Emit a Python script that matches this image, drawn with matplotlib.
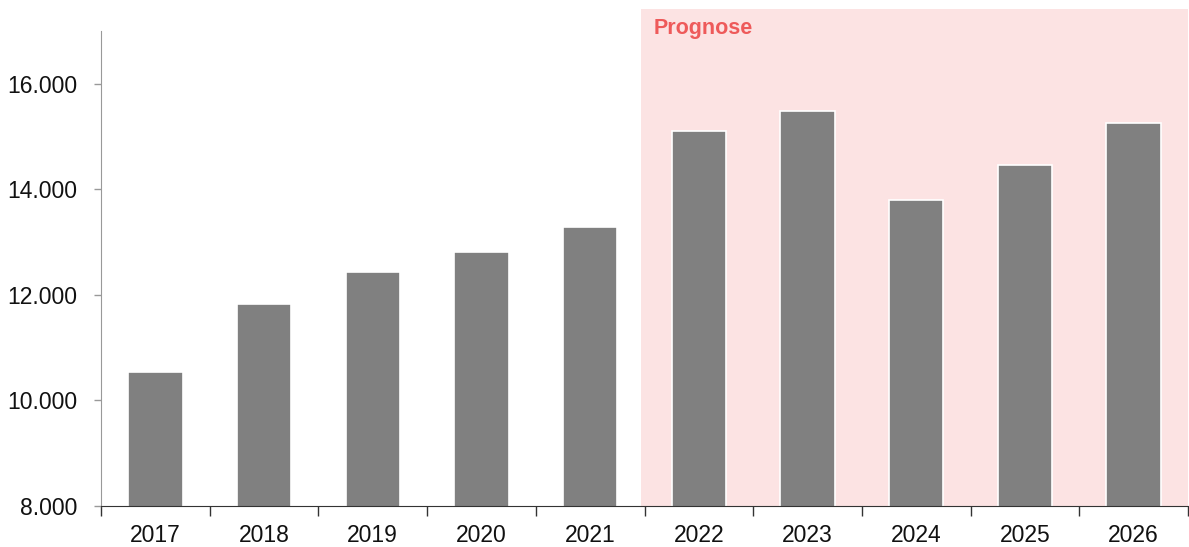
import matplotlib
matplotlib.use("Agg")
import matplotlib.pyplot as plt
import numpy as np
from matplotlib.ticker import FuncFormatter

years = ["2017", "2018", "2019", "2020", "2021", "2022", "2023", "2024", "2025", "2026"]
values = [10540, 11830, 12440, 12815, 13290, 15110, 15490, 13800, 14465, 15265]
yticks = [8000, 10000, 12000, 14000, 16000]
forecast_start = 5

plt.rcParams['font.family'] = ['Liberation Sans', 'DejaVu Sans']

W, H = 1189, 547
fig = plt.figure(figsize=(W / 100, H / 100), dpi=100)
ax = fig.add_axes([101 / W, (H - 506) / H, (1188 - 101) / W, (506 - 31) / H])

x = np.arange(len(years))
ax.axvspan(forecast_start - 0.53, len(years) - 0.5, ymin=0, ymax=(506 - 9) / (506 - 31),
           color="#fce3e3", clip_on=False, zorder=0, lw=0)
ax.bar(x, values, width=0.5, color="#808080", edgecolor="white", linewidth=1.2, zorder=2)

ax.set_xlim(-0.5, len(years) - 0.5)
ax.set_ylim(8000, 17000)
ax.set_yticks(yticks)
ax.yaxis.set_major_formatter(FuncFormatter(lambda v, p: f"{int(v):,}".replace(",", ".")))

ax.set_xticks(np.arange(len(years) + 1) - 0.5)
ax.set_xticklabels([])
ax.set_xticks(x, minor=True)
ax.set_xticklabels(years, minor=True)
ax.tick_params(axis="x", which="major", length=7, width=1, color="#333333", direction="out")
ax.tick_params(axis="x", which="minor", length=0, pad=13, labelsize=16.5, labelcolor="#111111")
ax.tick_params(axis="y", length=5, width=1, color="#999999", labelsize=16.5, labelcolor="#111111", pad=12)

for s in ["top", "right"]:
    ax.spines[s].set_visible(False)
ax.spines["left"].set_color("#999999")
ax.spines["bottom"].set_color("#333333")
ax.spines["bottom"].set_zorder(3)

ax.text(forecast_start - 0.5 + 0.085, 1.005, "Prognose", transform=ax.get_xaxis_transform(),
        color="#ee5a5a", fontsize=15.5, fontweight="bold", va="center", ha="left", clip_on=False)

fig.savefig("out.png", dpi=100)
